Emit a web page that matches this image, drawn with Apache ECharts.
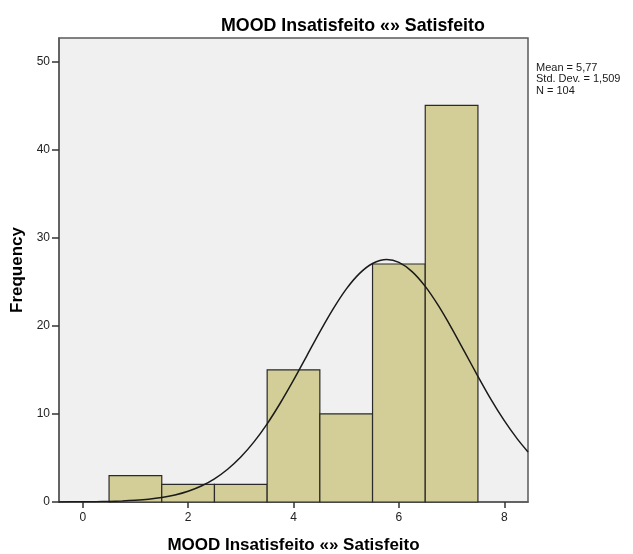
<!DOCTYPE html>
<html>
<head>
<meta charset="utf-8">
<script src="https://cdn.jsdelivr.net/npm/echarts@6/dist/echarts.min.js"></script>
<style>html,body{margin:0;padding:0;background:#fff;}#c{width:633px;height:554px;}</style>
</head>
<body>
<div id="c"></div>
<script>
var binCenters = [1, 2, 3, 4, 5, 6, 7];
var frequencies = [3, 2, 2, 15, 10, 27, 45];
var curveX = [-0.45, 0, 0.25, 0.5, 0.75, 1, 1.25, 1.5, 1.75, 2, 2.25, 2.5, 2.75, 3, 3.25, 3.5, 3.75, 4, 4.25, 4.5, 4.75, 5, 5.25, 5.5, 5.77, 6, 6.25, 6.5, 6.75, 7, 7.25, 7.5, 7.75, 8, 8.25, 8.45];
var curveY = [0.01, 0.02, 0.03, 0.06, 0.11, 0.19, 0.31, 0.5, 0.79, 1.21, 1.81, 2.63, 3.72, 5.1, 6.82, 8.87, 11.23, 13.82, 16.56, 19.3, 21.88, 24.15, 25.91, 27.06, 27.5, 27.18, 26.14, 24.46, 22.27, 19.73, 17.0, 14.26, 11.62, 9.23, 7.13, 5.68];
var xTicks = [0, 2, 4, 6, 8];
var yTicks = [0, 10, 20, 30, 40, 50];
var statsLines = ['Mean = 5,77', 'Std. Dev. = 1,509', 'N = 104'];
var titleText = 'MOOD Insatisfeito «» Satisfeito';
var yName = 'Frequency';

var chart = echarts.init(document.getElementById('c'), null, {renderer: 'canvas'});
var font = 'Arial, "Liberation Sans", sans-serif';

chart.setOption({
  animation: false,
  backgroundColor: '#ffffff',
  title: {
    text: titleText,
    left: 216, top: 12,
    textStyle: {fontFamily: font, fontSize: 17.8, fontWeight: 'bold', color: '#000'}
  },
  graphic: [{
    type: 'text', left: 536, top: 62,
    style: {text: statsLines.join('\n'), font: '11px ' + font, fill: '#1a1a1a', lineHeight: 11.5}
  }],
  grid: {left: 59, top: 38, right: 105, bottom: 52, outerBoundsMode: 'none', containLabel: false, show: true, backgroundColor: '#f0f0f0', borderColor: '#5a5a5a', borderWidth: 1.5},
  xAxis: {
    type: 'value', min: -0.45, max: 8.45, interval: 2,
    name: titleText, nameLocation: 'middle', nameGap: 35,
    nameTextStyle: {fontFamily: font, fontSize: 17, fontWeight: 'bold', color: '#000'},
    axisLine: {show: true, onZero: false, lineStyle: {color: '#5a5a5a', width: 1.5}},
    axisTick: {show: true, length: 6, lineStyle: {color: '#333', width: 1.5}, customValues: xTicks},
    axisLabel: {fontFamily: font, fontSize: 12, color: '#222', margin: 10, customValues: xTicks},
    splitLine: {show: false}
  },
  yAxis: {
    type: 'value', min: 0, max: 52.64, interval: 10,
    name: yName, nameLocation: 'middle', nameGap: 32,
    nameTextStyle: {fontFamily: font, fontSize: 17, fontWeight: 'bold', color: '#000'},
    axisLine: {show: true, onZero: false, lineStyle: {color: '#5a5a5a', width: 1.5}},
    axisTick: {show: true, length: 7, lineStyle: {color: '#333', width: 1.5}, customValues: yTicks},
    axisLabel: {fontFamily: font, fontSize: 12, color: '#222', margin: 9, customValues: yTicks},
    splitLine: {show: false}
  },
  series: [{
    type: 'custom',
    data: binCenters.map(function (c, i) { return [c, frequencies[i]]; }),
    renderItem: function (params, api) {
      var c = api.value(0), v = api.value(1);
      var p0 = api.coord([c - 0.5, v]);
      var p1 = api.coord([c + 0.5, 0]);
      return {
        type: 'rect',
        shape: {x: p0[0], y: p0[1], width: p1[0] - p0[0], height: p1[1] - p0[1]},
        style: {fill: '#d3ce97', stroke: '#2a2a2a', lineWidth: 1.2}
      };
    },
    z: 2
  }, {
    type: 'line',
    data: curveX.map(function (x, i) { return [x, curveY[i]]; }),
    smooth: 0.3, showSymbol: false, symbol: 'none',
    lineStyle: {color: '#1a1a1a', width: 1.5},
    z: 3
  }]
});
</script>
</body>
</html>
